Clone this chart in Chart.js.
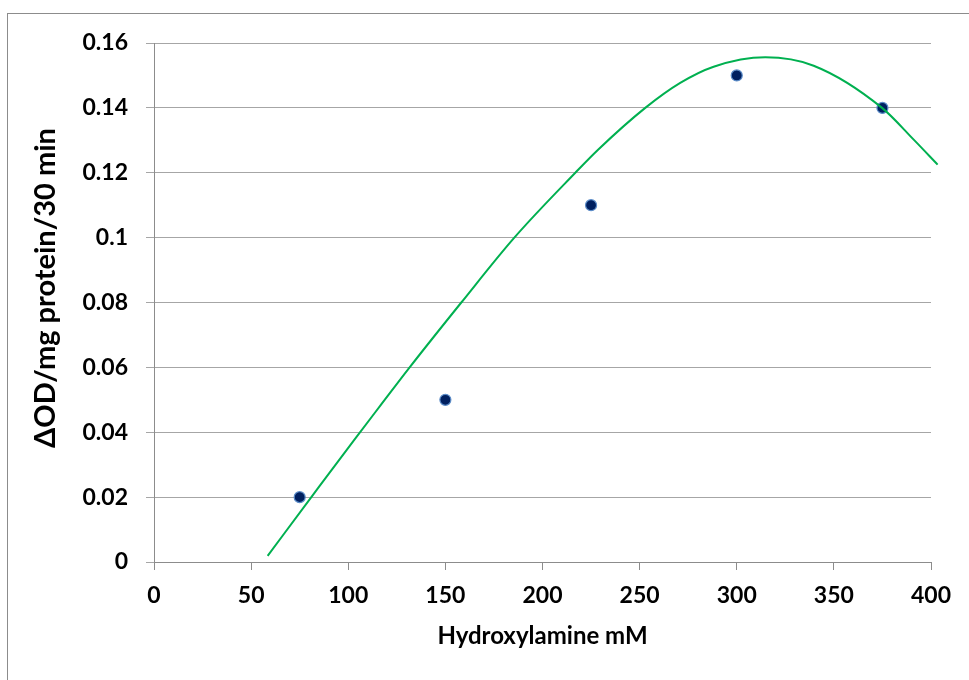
<!DOCTYPE html>
<html>
<head>
<meta charset="utf-8">
<script src="https://cdn.jsdelivr.net/npm/chart.js@4"></script>
<style>
  html, body { margin: 0; padding: 0; background: #fff; overflow: hidden; }
  #frame { position: absolute; left: 7px; top: 13px; width: 1100px; height: 1000px; border: 1px solid #8c8c8c; }
  #wrap { position: absolute; left: 0; top: 0; width: 969px; height: 680px; }
</style>
</head>
<body>
<div id="frame"></div>
<div id="wrap"><canvas id="myChart" width="969" height="680"></canvas></div>
<script>
  // medidas (puntos)
  const hydroxylamine = [75, 150, 225, 300, 375];
  const deltaOD = [0.02, 0.05, 0.11, 0.15, 0.14];

  // linea de tendencia
  const trendX = [58.5, 81, 103, 116.5, 131.6, 158.2, 185.5, 216.9, 228.6, 252.9, 270.9, 288.1, 314.7, 339.6, 374.8, 391.1, 403.4];
  const trendY = [0.0019, 0.02, 0.0376, 0.0482, 0.06, 0.08, 0.10, 0.12, 0.1271, 0.14, 0.1477, 0.1527, 0.1556, 0.1530, 0.14, 0.1302, 0.1225];

  const xTicks = ['0', '50', '100', '150', '200', '250', '300', '350', '400'];
  const yTicks = ['0', '0.02', '0.04', '0.06', '0.08', '0.1', '0.12', '0.14', '0.16'];

  const fontFamily = 'Lato, "Open Sans", sans-serif';

  const data = {
    datasets: [
      {
        label: 'Trend',
        data: trendX.map((x, i) => ({ x: x, y: trendY[i] })),
        showLine: true,
        borderColor: '#00b050',
        borderWidth: 2,
        pointRadius: 0,
        cubicInterpolationMode: 'monotone',
        clip: false,
        order: 0
      },
      {
        label: 'ΔOD',
        data: hydroxylamine.map((x, i) => ({ x: x, y: deltaOD[i] })),
        pointRadius: 5.5,
        pointBackgroundColor: '#002060',
        pointBorderColor: '#5b8cc8',
        pointBorderWidth: 1.2,
        order: 1
      }
    ]
  };

  const config = {
    type: 'scatter',
    data: data,
    options: {
      responsive: false,
      animation: false,
      layout: { padding: { left: 0, right: 38, top: 43, bottom: 0 } },
      plugins: { legend: { display: false }, tooltip: { enabled: false } },
      scales: {
        x: {
          type: 'linear',
          min: 0, max: 400,
          afterFit: (s) => { s.height = 118; },
          afterBuildTicks: (s) => { s.ticks = xTicks.map(v => ({ value: +v })); },
          border: { color: '#8c8c8c', width: 1 },
          grid: { drawOnChartArea: false, drawTicks: true, tickLength: 8, color: '#8c8c8c' },
          ticks: {
            padding: 12,
            color: '#000',
            font: { family: fontFamily, size: 23, weight: 'bold' },
            callback: (v, i) => xTicks[i]
          },
          title: {
            display: true,
            text: 'Hydroxylamine mM',
            color: '#000',
            font: { family: fontFamily, size: 24, weight: 'bold' },
            padding: { top: 0, bottom: 44 - 14.4 }
          }
        },
        y: {
          type: 'linear',
          min: 0, max: 0.16,
          afterFit: (s) => { s.width = 154; },
          afterBuildTicks: (s) => { s.ticks = yTicks.map(v => ({ value: +v })); },
          border: { color: '#8c8c8c', width: 1 },
          grid: { color: '#a6a6a6', tickLength: 8, lineWidth: 1 },
          ticks: {
            padding: 18,
            color: '#000',
            font: { family: fontFamily, size: 23, weight: 'bold' },
            callback: (v, i) => yTicks[i]
          },
          title: {
            display: true,
            // espacios al inicio para subir un poco el titulo
            text: '\u2002\u2002ΔOD/mg protein/30 min',
            color: '#000',
            font: { family: fontFamily, size: 29, weight: 'bold' },
            padding: { top: 46 - 17.4, bottom: 0 }
          }
        }
      }
    }
  };

  const myChart = new Chart(document.getElementById('myChart'), config);
</script>
</body>
</html>
